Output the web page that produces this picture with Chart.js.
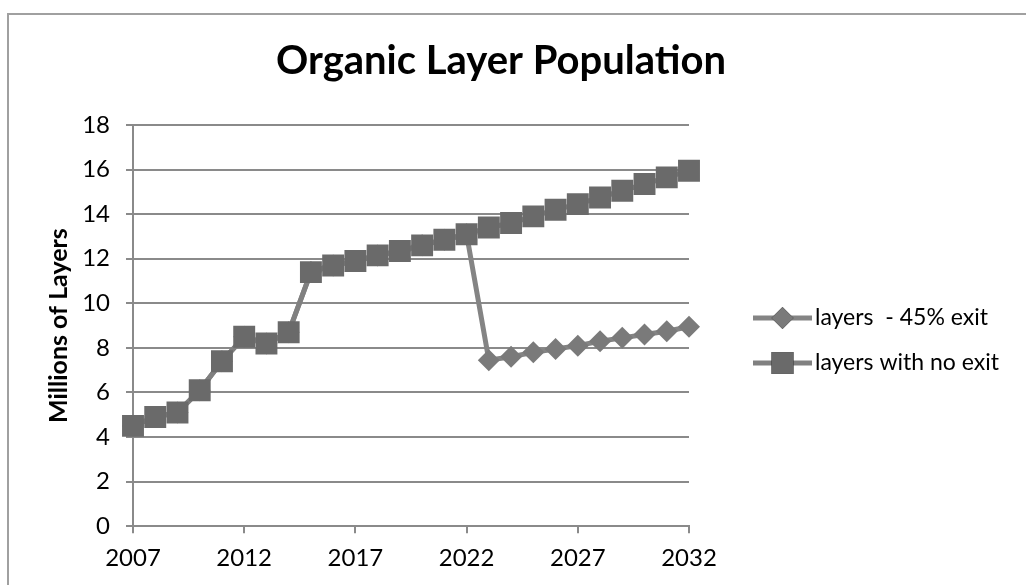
<!DOCTYPE html>
<html>
<head>
<meta charset="utf-8">
<title>Organic Layer Population</title>
<script src="https://cdn.jsdelivr.net/npm/chart.js@4.4.1/dist/chart.umd.min.js"></script>
<style>
    html, body { margin: 0; padding: 0; background: #fff; }
    #wrap { position: relative; width: 1026px; height: 585px; overflow: hidden; }
    #frame { position: absolute; left: 7px; top: 13px; width: 1030px; height: 600px;
             border-left: 2px solid #a0a0a0; border-top: 2px solid #a0a0a0; }
    #layers-chart { position: absolute; left: 0; top: 0; }
</style>
</head>
<body>
<div id="wrap">
    <div id="frame"></div>
    <canvas id="layers-chart" width="1026" height="585"></canvas>
</div>
<script>
"use strict";

//=> Data
var years = ['2007', '2008', '2009', '2010', '2011', '2012', '2013', '2014', '2015', '2016',
             '2017', '2018', '2019', '2020', '2021', '2022', '2023', '2024', '2025', '2026',
             '2027', '2028', '2029', '2030', '2031', '2032'];
var noExit = [4.5, 4.9, 5.1, 6.1, 7.4, 8.5, 8.2, 8.7, 11.4, 11.7,
              11.9, 12.15, 12.35, 12.6, 12.85, 13.1, 13.4, 13.6, 13.9, 14.2,
              14.45, 14.75, 15.05, 15.35, 15.65, 15.95];
var exit45 = [4.5, 4.9, 5.1, 6.1, 7.4, 8.5, 8.2, 8.7, 11.4, 11.7,
              11.9, 12.15, 12.35, 12.6, 12.85, 13.1, 7.45, 7.6, 7.8, 7.95,
              8.1, 8.3, 8.45, 8.6, 8.75, 8.95];
var seriesNames = ['layers  - 45% exit', 'layers with no exit'];
var yTicks = [0, 2, 4, 6, 8, 10, 12, 14, 16, 18];
var chartTitle = 'Organic Layer Population';

var FONT = 'Lato, "Open Sans", sans-serif';

//=> Title centred over the whole frame, not just the plot
var frameTitle = {
    id: 'frameTitle',
    afterDraw: function (chart) {
        var ctx = chart.ctx;
        ctx.save();
        ctx.fillStyle = '#000';
        ctx.font = 'bold 40px ' + FONT;
        ctx.textAlign = 'center';
        ctx.textBaseline = 'alphabetic';
        ctx.fillText(chartTitle, 501, 74);
        ctx.restore();
    }
};

//=> Legend drawn as line + marker, like the spreadsheet one
var lineLegend = {
    id: 'lineLegend',
    afterDraw: function (chart) {
        var ctx = chart.ctx;
        var x0 = chart.chartArea.right + 64;
        var rows = [318, 363];
        ctx.save();
        chart.data.datasets.forEach(function (ds, i) {
            var y = rows[i];
            ctx.strokeStyle = ds.borderColor;
            ctx.lineWidth = ds.borderWidth;
            ctx.beginPath();
            ctx.moveTo(x0, y);
            ctx.lineTo(x0 + 59, y);
            ctx.stroke();
            Chart.helpers.drawPoint(ctx, {
                pointStyle: ds.pointStyle,
                radius: ds.pointRadius,
                borderWidth: 0
            }, x0 + 29.5, y);
            ctx.fillStyle = ds.pointBackgroundColor;
            ctx.fill();
            ctx.fillStyle = '#000';
            ctx.font = '23px ' + FONT;
            ctx.textBaseline = 'middle';
            ctx.fillText(ds.label, x0 + 62, y);
        });
        ctx.restore();
    }
};

var ctx = document.getElementById('layers-chart').getContext('2d');
var myChart = new Chart(ctx, {
    type: 'line',
    data: {
        labels: years,
        datasets: [{
            label: seriesNames[0],
            data: exit45,
            borderColor: '#848484',
            borderWidth: 5,
            pointStyle: 'rectRot',
            pointRadius: 11,
            pointBackgroundColor: '#7a7a7a',
            pointBorderWidth: 0,
            tension: 0,
            order: 1
        }, {
            label: seriesNames[1],
            data: noExit,
            borderColor: '#808080',
            borderWidth: 5,
            pointStyle: 'rect',
            pointRadius: 15.5,
            pointBackgroundColor: '#6a6a6a',
            pointBorderWidth: 0,
            tension: 0,
            order: 0
        }]
    },
    options: {
        responsive: false,
        animation: false,
        layout: { padding: { left: 44, right: 337, top: 125, bottom: 1 } },
        plugins: {
            legend: { display: false },
            tooltip: { enabled: false },
            title: { display: false }
        },
        scales: {
            x: {
                offset: false,
                border: { color: '#8a8a8a', width: 2 },
                grid: { drawOnChartArea: false, drawTicks: true, tickLength: 7, color: '#8a8a8a', lineWidth: 2 },
                ticks: {
                    autoSkip: false,
                    maxRotation: 0,
                    padding: 11,
                    color: '#000',
                    font: { family: FONT, size: 24 },
                    callback: function (value, index) {
                        return index % 5 === 0 ? years[index] : null;
                    }
                }
            },
            y: {
                min: 0,
                max: 18,
                afterFit: function (scale) { scale.width = 89; },
                afterBuildTicks: function (scale) {
                    scale.ticks = yTicks.map(function (v) { return { value: v }; });
                },
                border: { color: '#8a8a8a', width: 2 },
                grid: { color: '#8a8a8a', lineWidth: 2, tickLength: 7 },
                ticks: {
                    padding: 16,
                    color: '#000',
                    font: { family: FONT, size: 24 }
                },
                title: {
                    display: true,
                    text: 'Millions of Layers',
                    color: '#000',
                    font: { family: FONT, size: 25, weight: 'bold' },
                    padding: 0
                }
            }
        }
    },
    plugins: [frameTitle, lineLegend]
});
</script>
</body>
</html>
